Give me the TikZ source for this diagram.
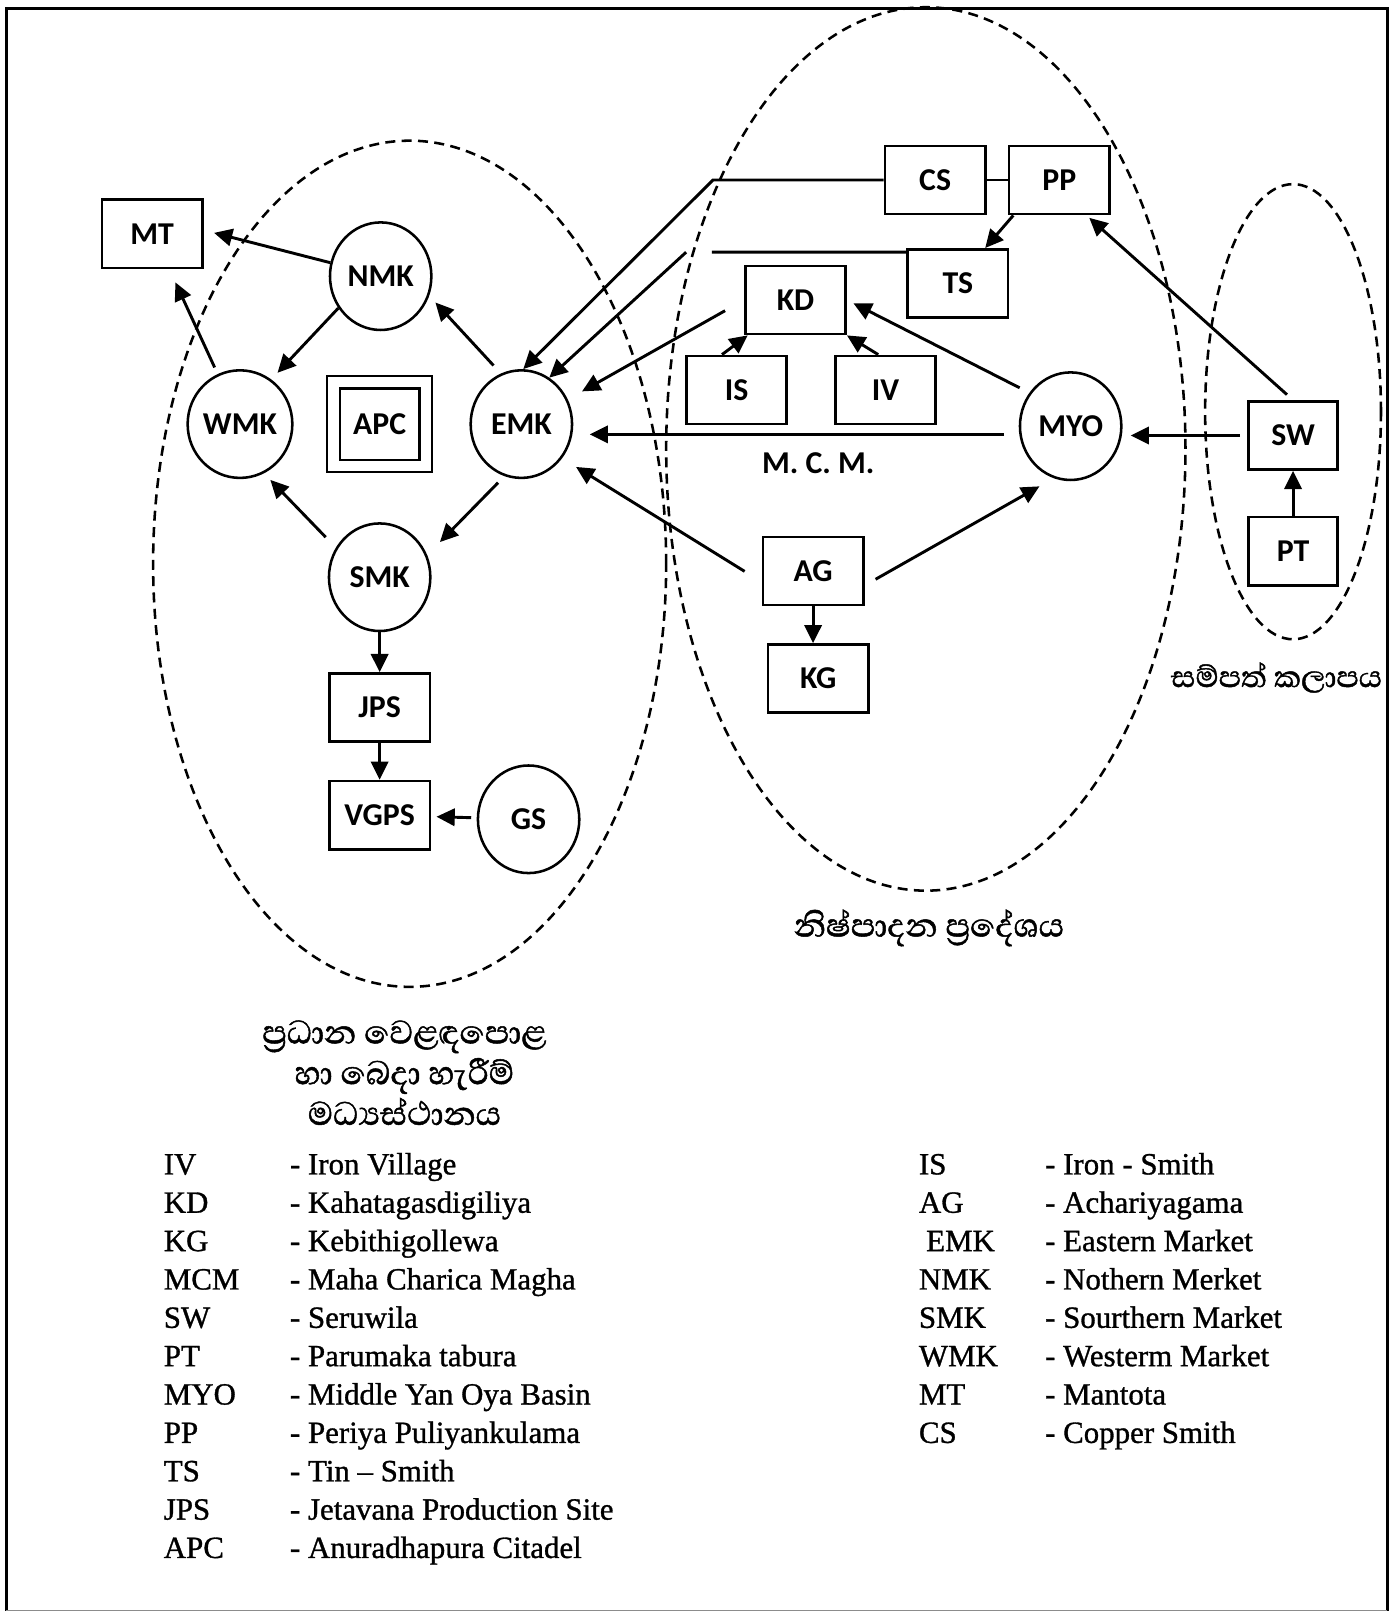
\documentclass[tikz,border=0pt]{standalone}
\usepackage{fontspec}
\setmainfont{Liberation Serif}
\newfontfamily\nodefont{Carlito}
\newfontfamily\legendfont{Liberation Serif}[FakeBold=1]
\newfontfamily\sinhalafont[Script=Sinhala, FakeBold=1.2]{Abhaya Libre}
\usepackage{tikz}
\usetikzlibrary{shapes.geometric, arrows.meta}

\tikzstyle{market} = [ellipse, minimum width=1.96cm, minimum height=2.08cm, inner sep=0pt, draw=black, line width=1.4pt, font=\nodefont\bfseries\fontsize{17.5}{20}\selectfont]
\tikzstyle{site} = [rectangle, minimum width=1.94cm, minimum height=1.32cm, inner sep=0pt, draw=black, line width=1.4pt, font=\nodefont\bfseries\fontsize{17.5}{20}\selectfont]
\tikzstyle{smallsite} = [site, minimum width=1.72cm]
\tikzstyle{citadel} = [site, minimum width=1.78cm, minimum height=1.62cm, double, double distance=0.2cm, line width=1.2pt]
\tikzstyle{zone} = [dash pattern=on 5.5pt off 3.5pt, line width=1.4pt]
\tikzstyle{zonelabel} = [font=\sinhalafont\fontsize{23}{22.4}\selectfont, align=center]
\tikzstyle{mcmlabel} = [font=\nodefont\bfseries\fontsize{17.5}{20}\selectfont]
\tikzstyle{legend} = [anchor=north west, inner sep=0pt, font=\legendfont\fontsize{17}{21.1}\selectfont]
\tikzstyle{arrow} = [line width=1.6pt, -{Triangle[length=10pt, width=9.5pt]}]
\tikzstyle{link} = [line width=1.6pt]

\begin{document}
\begin{tikzpicture}[node distance=2cm]
\useasboundingbox (0,0) rectangle (27.02,-31.36);

% Frame
\draw [line width=1.8pt] (0.12,-31.14) -- (0.12,-0.16) -- (26.82,-0.16) -- (26.82,-31.14);
\draw [line width=0.8pt, black!45] (0.12,-31.14) -- (26.82,-31.14);

% Markets
\node (emk) [market] at (10.08,-8.20) {EMK};
\node (apc) [citadel, left of=emk, xshift=-0.74cm] {APC};
\node (wmk) [market, left of=apc, xshift=-0.70cm] {WMK};
\node (nmk) [market, above of=apc, xshift=0.02cm, yshift=0.86cm] {NMK};
\node (smk) [market, below of=apc, yshift=-0.96cm] {SMK};
\node (mt) [site, above of=wmk, xshift=-1.70cm, yshift=1.68cm] {MT};
\node (jps) [site, below of=smk, yshift=-0.52cm] {JPS};
\node (vgps) [site, below of=jps, yshift=-0.08cm] {VGPS};
\node (gs) [market, right of=vgps, xshift=0.88cm, yshift=-0.08cm] {GS};

% Production area
\node (is) [site, right of=emk, xshift=2.16cm, yshift=0.66cm] {IS};
\node (iv) [site, right of=is, xshift=0.88cm] {IV};
\node (kd) [site, above of=is, xshift=1.14cm, yshift=-0.26cm] {KD};
\node (ts) [site, right of=kd, xshift=1.14cm, yshift=0.32cm] {TS};
\node (cs) [site, above of=ts, xshift=-0.44cm] {CS};
\node (pp) [site, right of=cs, xshift=0.40cm] {PP};
\node (myo) [market, right of=emk, xshift=8.62cm, yshift=-0.04cm] {MYO};
\node (ag) [site, right of=emk, xshift=3.64cm, yshift=-2.84cm] {AG};
\node (kg) [site, below of=ag, xshift=0.10cm, yshift=-0.08cm] {KG};

% Resource zone
\node (sw) [smallsite, right of=myo, xshift=2.30cm, yshift=-0.18cm] {SW};
\node (pt) [smallsite, below of=sw, yshift=-0.24cm] {PT};

% Zones
\draw [zone] (7.92,-10.90) ellipse (4.96cm and 8.18cm);
\draw [zone] (17.90,-8.68) ellipse (5.02cm and 8.54cm);
\draw [zone] (25.00,-7.96) ellipse (1.70cm and 4.40cm);

% Zone labels
\node (mktlbl) [zonelabel, below of=vgps, xshift=0.48cm, yshift=-2.98cm] {ප්^^^^200dරධාන වෙළඳපොළ\\හා බෙදා හැරීම්\\මධ්^^^^200dයස්ථානය};
\node (prodlbl) [zonelabel, below of=kg, xshift=2.14cm, yshift=-2.82cm] {නිෂ්පාදන ප්^^^^200dරදේශය};
\node (reslbl) [zonelabel, font=\sinhalafont\fontsize{21}{22.4}\selectfont, below of=pt, xshift=-0.32cm, yshift=-0.44cm] {සම්පත් කලාපය};

% Arrows
\draw [arrow, shorten >=6pt] (nmk.165) -- ([yshift=2pt]mt.east);
\draw [arrow, shorten <=4pt, shorten >=8pt] (wmk.114) -- ([xshift=9.5pt]mt.south);
\draw [arrow, shorten >=5pt] (nmk.-143) -- (wmk.55);
\draw [arrow, shorten <=6pt, shorten >=5pt] (emk.112) -- (nmk.-22);
\draw [arrow, shorten <=8pt, shorten >=5pt] (smk.146) -- (wmk.-64);
\draw [arrow, shorten <=5pt, shorten >=10pt] (emk.-108) -- (smk.25);
\draw [arrow] (smk) -- (jps);
\draw [arrow] (jps) -- (vgps);
\draw [arrow, shorten <=3pt, shorten >=3pt] (gs) -- (vgps);

\draw [arrow] (cs.west) -- ++(-3.30,0) -- (emk.88);
\draw [link] (cs.east) -- (pp.west);
\draw [arrow] ([yshift=-2.3pt]ts.north west) -- ++(-3.76,0) ++(-0.5,0) -- (emk.59);
\draw [arrow, shorten <=12pt, shorten >=9pt] (kd.west) -- (emk.28);
\draw [arrow, shorten <=8pt, shorten >=9pt] ([yshift=-4.5pt]myo.west) -- ([yshift=-4.5pt]myo.west -| emk.east) node [mcmlabel, pos=0.45, yshift=-16pt] {M. C. M.};
\draw [arrow, shorten <=11pt, shorten >=9pt] ([yshift=-6pt]ag.west) -- (emk.-40);
\draw [arrow, shorten <=7pt, shorten >=9pt] ([yshift=-8pt]ag.east) -- (myo.-108);
\draw [arrow] (ag.south) -- (ag.south |- kg.north);
\draw [arrow] ([xshift=-8pt]is.north) -- ([xshift=2pt]kd.south west);
\draw [arrow] ([xshift=-4pt]iv.north) -- (kd.south east);
\draw [arrow, shorten <=6pt, shorten >=4pt] (myo.141) -- (kd.east);
\draw [arrow] ([xshift=3pt]pp.south west) -- ([xshift=15pt]ts.north);
\draw [arrow, shorten <=4.5pt, shorten >=2pt] (sw.north) -- ([xshift=15pt]pp.south);
\draw [arrow, shorten <=4pt, shorten >=4.5pt] (sw.west) -- (sw.west -| myo.east);
\draw [arrow] (pt) -- (sw);

% Legend
\node (legleft) [legend] at (3.16,-22.18) {\begin{tabular}{@{}p{2.44cm}@{}l@{}}
IV & - Iron Village\\
KD & - Kahatagasdigiliya\\
KG & - Kebithigollewa\\
MCM & - Maha Charica Magha\\
SW & - Seruwila\\
PT & - Parumaka tabura\\
MYO & - Middle Yan Oya Basin\\
PP & - Periya Puliyankulama\\
TS & - Tin – Smith\\
JPS & - Jetavana Production Site\\
APC & - Anuradhapura Citadel
\end{tabular}};
\node (legright) [legend] at (17.76,-22.18) {\begin{tabular}{@{}p{2.44cm}@{}l@{}}
IS & - Iron - Smith\\
AG & - Achariyagama\\
\hspace*{4pt}EMK & - Eastern Market\\
NMK & - Nothern Merket\\
SMK & - Sourthern Market\\
WMK & - Westerm Market\\
MT & - Mantota\\
CS & - Copper Smith
\end{tabular}};

\end{tikzpicture}
\end{document}
